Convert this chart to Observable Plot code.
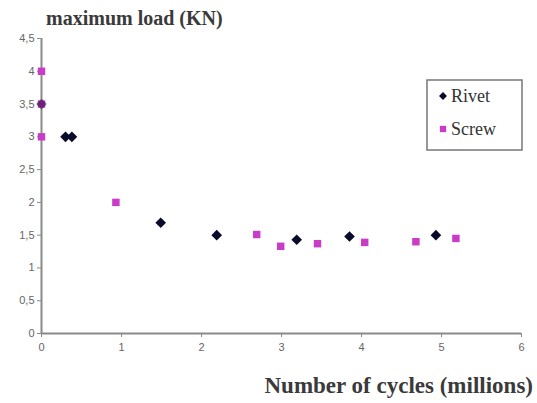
<!DOCTYPE html>
<html><head><meta charset="utf-8">
<script src="https://cdn.jsdelivr.net/npm/d3@7"></script>
<script src="https://cdn.jsdelivr.net/npm/@observablehq/plot@0.6"></script>
<style>body{margin:0;background:#fff}#c{position:relative;width:537px;height:403px}</style>
</head><body><div id="c"></div>
<script>
const series = ["Rivet", "Screw"];
const rivetCycles = [0, 0.3, 0.38, 1.49, 2.19, 3.19, 3.85, 4.93];
const rivetLoad   = [3.5, 3.0, 3.0, 1.69, 1.50, 1.43, 1.48, 1.50];
const screwCycles = [0, 0, 0, 0.93, 2.69, 2.99, 3.45, 4.04, 4.68, 5.18];
const screwLoad   = [4.0, 3.5, 3.0, 2.0, 1.51, 1.33, 1.37, 1.39, 1.40, 1.45];
const xTicks = [0, 1, 2, 3, 4, 5, 6];
const yTicks = [0, 0.5, 1, 1.5, 2, 2.5, 3, 3.5, 4, 4.5];
const yTitle = "maximum load (KN)";
const xTitle = "Number of cycles (millions)";
const colors = {Rivet: "#0a0a2a", Screw: "#c83cc8"};

const rivet = rivetCycles.map((x, i) => ({x, y: rivetLoad[i], s: "Rivet"}));
const screw = screwCycles.map((x, i) => ({x, y: screwLoad[i], s: "Screw"}));
const fmt = d => String(d).replace(".", ",");
const axisCol = "#8a8a8a";
const serif = "'Liberation Serif', 'Times New Roman', serif";

const chart = Plot.plot({
  width: 537, height: 403,
  marginLeft: 41, marginRight: 16, marginTop: 38, marginBottom: 70,
  style: {background: "#fff", fontFamily: "Liberation Sans, Arial, sans-serif"},
  x: {domain: [0, 6], ticks: xTicks, tickFormat: fmt, label: null},
  y: {domain: [0, 4.5], ticks: yTicks, tickFormat: fmt, label: null},
  marks: [
    Plot.axisX({ticks: xTicks, tickFormat: fmt, tickSize: 4, tickPadding: 6, stroke: axisCol, color: "#666", fontSize: 11}),
    Plot.axisY({ticks: yTicks, tickFormat: fmt, tickSize: 4, tickPadding: 3, stroke: axisCol, color: "#666", fontSize: 11}),
    Plot.ruleX([0], {stroke: axisCol, strokeWidth: 2}),
    Plot.ruleY([0], {stroke: axisCol, strokeWidth: 2}),
    Plot.dot(screw, {x: "x", y: "y", symbol: "square", r: 4.2, fill: colors.Screw}),
    Plot.dot(rivet, {x: "x", y: "y", symbol: "diamond2", r: 4.8, fill: colors.Rivet, stroke: "none", fillOpacity: d => d.x === 0 ? 0.5 : 1})
  ]
});
document.getElementById("c").appendChild(chart);

const svg = d3.select(chart);
// titles
svg.append("text").attr("x", 46).attr("y", 25).attr("text-anchor", "start").text(yTitle)
  .style("font-family", serif).style("font-size", "20px").style("font-weight", "bold").attr("fill", "#3a3a3a");
svg.append("text").attr("x", 533).attr("y", 393).attr("text-anchor", "end").text(xTitle)
  .style("font-family", serif).style("font-size", "23px").style("font-weight", "bold").attr("fill", "#3a3a3a");

// legend
const lg = svg.append("g").attr("transform", "translate(427,80)");
lg.append("rect").attr("width", 95).attr("height", 70).attr("fill", "#fff").attr("stroke", "#777").attr("stroke-width", 1.5);
series.forEach((s, i) => {
  const cy = 16 + i * 33;
  const sym = s === "Rivet" ? d3.symbolDiamond2 : d3.symbolSquare;
  lg.append("path").attr("d", d3.symbol(sym, 40)()).attr("transform", `translate(16,${cy})`).attr("fill", colors[s]);
  lg.append("text").attr("x", 24).attr("y", cy + 6).attr("text-anchor", "start").text(s)
    .style("font-family", serif).style("font-size", "18px").attr("fill", "#333");
});
</script></body></html>
